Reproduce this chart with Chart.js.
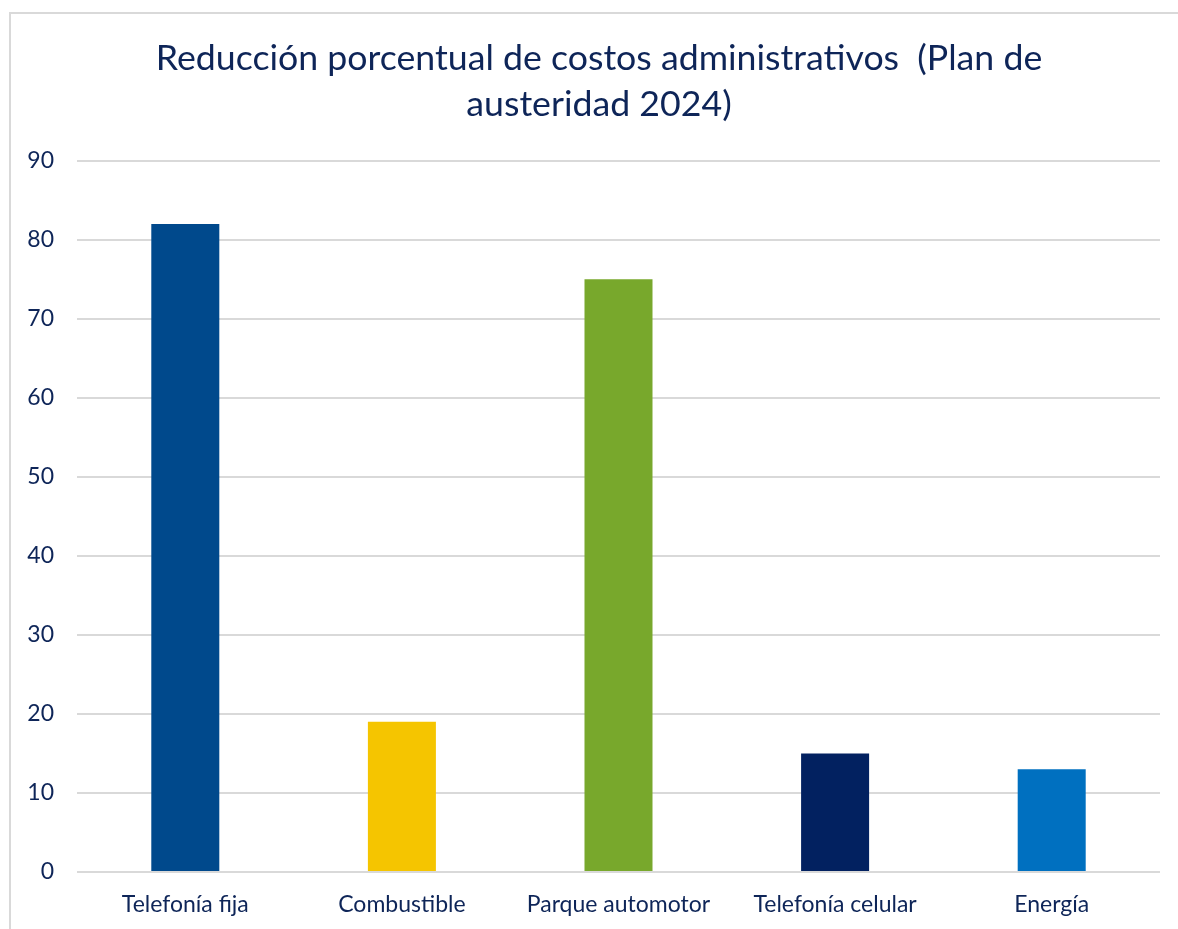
<!DOCTYPE html>
<html>
<head>
<meta charset="utf-8">
<script src="https://cdn.jsdelivr.net/npm/chart.js@4"></script>
<style>
  body { margin: 0; background: #fff; overflow: hidden; }
  .frame { position: absolute; left: 9px; top: 12px; width: 1200px; height: 950px; border: 2px solid #d9d9d9; box-sizing: border-box; }
  #chart { position: absolute; left: 0; top: 0; }
</style>
</head>
<body>
<div class="frame"></div>
<canvas id="chart" width="1178" height="929"></canvas>
<script>
const categories = ['Telefonía fija', 'Combustible', 'Parque automotor', 'Telefonía celular', 'Energía'];
const reduccion = [82, 19, 75, 15, 13];
const barColors = ['#00498C', '#F5C500', '#78A82C', '#022160', '#0070C0'];
const titleLines = ['Reducción porcentual de costos administrativos  (Plan de', 'austeridad 2024)'];

const textColor = '#0E2558';
const fontName = 'Lato, "Noto Sans", sans-serif';

// the title is centred on the frame, not on the plot area
const shiftTitle = {
  id: 'shiftTitle',
  afterLayout(chart) {
    const t = chart.titleBlock;
    if (t) { t.left += 19; t.right += 19; }
  }
};

new Chart(document.getElementById('chart'), {
  type: 'bar',
  data: {
    labels: categories,
    datasets: [{
      data: reduccion,
      backgroundColor: barColors,
      borderWidth: 0,
      barPercentage: 0.314,
      categoryPercentage: 1
    }]
  },
  options: {
    responsive: false,
    animation: false,
    layout: { padding: { top: 36, right: 18, left: 0, bottom: 0 } },
    plugins: {
      legend: { display: false },
      tooltip: { enabled: false },
      title: {
        display: true,
        text: titleLines,
        color: textColor,
        font: { family: fontName, size: 35.7, weight: 'normal', lineHeight: 1.27 },
        padding: { top: 0, bottom: 34 }
      }
    },
    scales: {
      x: {
        grid: { display: false },
        border: { display: false },
        ticks: { color: textColor, font: { family: fontName, size: 23 }, padding: 11, maxRotation: 0 },
        afterFit: (scale) => { scale.height = 57; }
      },
      y: {
        min: 0,
        max: 90,
        ticks: { stepSize: 10, color: textColor, font: { family: fontName, size: 23 }, padding: 23 },
        grid: { color: '#d9d9d9', lineWidth: 2, drawTicks: false },
        border: { display: false },
        afterFit: (scale) => { scale.width = 77; }
      }
    }
  },
  plugins: [shiftTitle]
});
</script>
</body>
</html>
